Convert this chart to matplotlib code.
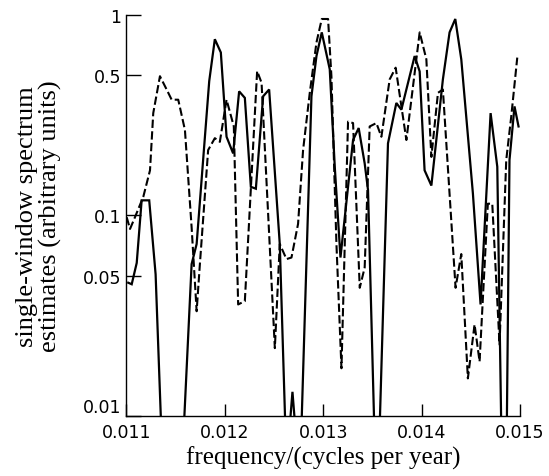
import matplotlib
matplotlib.use("Agg")
import matplotlib.pyplot as plt
from matplotlib.ticker import FixedLocator, FixedFormatter, NullLocator

# values; 0.009 marks dips that run below the axis
solid_freq = [0.011018, 0.011053, 0.011104, 0.011154, 0.011231, 0.011296,
              0.011352, 0.011584, 0.011662, 0.011713, 0.011841, 0.011898,
              0.011959, 0.012017, 0.012084, 0.012145, 0.012203, 0.012264,
              0.012315, 0.012389, 0.012450, 0.012558, 0.012614, 0.012660,
              0.012687, 0.012714, 0.012779, 0.012880, 0.012931, 0.012985,
              0.013066, 0.013117, 0.013175, 0.013303, 0.013360, 0.013421,
              0.013455, 0.013518, 0.013574, 0.013658, 0.013743, 0.013794,
              0.013929, 0.013980, 0.014030, 0.014099, 0.014216, 0.014284,
              0.014342, 0.014403, 0.014521, 0.014599, 0.014701, 0.014769,
              0.014809, 0.014866, 0.014893, 0.014944, 0.014985]
solid_power = [0.0462, 0.0454, 0.058, 0.119, 0.119, 0.0509,
               0.009, 0.009, 0.0572, 0.0721, 0.468, 0.757,
               0.650, 0.247, 0.204, 0.416, 0.386, 0.139,
               0.136, 0.393, 0.425, 0.0721, 0.009, 0.009,
               0.0132, 0.009, 0.009, 0.393, 0.624, 0.819,
               0.536, 0.175, 0.0617, 0.238, 0.273, 0.182,
               0.134, 0.009, 0.009, 0.229, 0.364, 0.337,
               0.624, 0.523, 0.168, 0.141, 0.477, 0.819,
               0.955, 0.601, 0.129, 0.036, 0.324, 0.175,
               0.009, 0.009, 0.189, 0.350, 0.278]

dashed_freq = [0.011002, 0.011036, 0.011086, 0.011171, 0.011239, 0.011272,
               0.011340, 0.011408, 0.011459, 0.011526, 0.011594, 0.011662,
               0.011713, 0.011746, 0.011830, 0.011898, 0.011949, 0.012017,
               0.012091, 0.012135, 0.012203, 0.012328, 0.012373, 0.012508,
               0.012558, 0.012626, 0.012677, 0.012744, 0.012795, 0.012863,
               0.012931, 0.012985, 0.013049, 0.013083, 0.013134, 0.013185,
               0.013252, 0.013303, 0.013371, 0.013421, 0.013472, 0.013540,
               0.013591, 0.013675, 0.013736, 0.013845, 0.013980, 0.014048,
               0.014099, 0.014166, 0.014216, 0.014345, 0.014403, 0.014470,
               0.014538, 0.014589, 0.014673, 0.014718, 0.014792, 0.014860,
               0.014911, 0.014972]
dashed_power = [0.098, 0.0857, 0.098, 0.124, 0.168, 0.324,
                0.495, 0.425, 0.378, 0.378, 0.267, 0.0873,
                0.0333, 0.0572, 0.212, 0.243, 0.233, 0.378,
                0.278, 0.036, 0.0374, 0.525, 0.459, 0.0218,
                0.0721, 0.0606, 0.0617, 0.0908, 0.212, 0.409,
                0.729, 0.955, 0.955, 0.495, 0.0721, 0.0173,
                0.294, 0.289, 0.0436, 0.055, 0.278, 0.289,
                0.247, 0.477, 0.546, 0.238, 0.819, 0.601,
                0.196, 0.409, 0.425, 0.0436, 0.0642, 0.0154,
                0.0286, 0.0187, 0.1145, 0.1145, 0.0227, 0.189,
                0.312, 0.613]

x_ticks = [0.011, 0.012, 0.013, 0.014, 0.015]
x_labels = ["0.011", "0.012", "0.013", "0.014", "0.015"]
y_ticks = [0.01, 0.05, 0.1, 0.5, 1]
y_labels = ["0.01", "0.05", "0.1", "0.5", "1"]

fig = plt.figure(figsize=(5.49, 4.77), dpi=100)
ax = fig.add_axes([0.2304, 0.1258, 0.7168, 0.8407])

ax.plot(solid_freq, solid_power, color="black", lw=1.6, solid_joinstyle="miter")
ax.plot(dashed_freq, dashed_power, color="black", lw=1.5, linestyle=(0, (4, 1.6)))

ax.set_yscale("log")
ax.set_xlim(0.011, 0.015)
ax.set_ylim(0.01, 1)

ax.xaxis.set_major_locator(FixedLocator(x_ticks))
ax.xaxis.set_major_formatter(FixedFormatter(x_labels))
ax.yaxis.set_major_locator(FixedLocator(y_ticks))
ax.yaxis.set_major_formatter(FixedFormatter(y_labels))
ax.yaxis.set_minor_locator(NullLocator())

for s in ["top", "right"]:
    ax.spines[s].set_visible(False)
for s in ["left", "bottom"]:
    ax.spines[s].set_linewidth(1.0)

ax.tick_params(axis="both", direction="in", width=1.0, labelsize=12.5)
ax.tick_params(axis="y", length=11, pad=4)
ax.tick_params(axis="x", length=9, pad=5)

# the lowest y label sits just above the corner, as in the original
fig.canvas.draw()
ax.get_yticklabels()[0].set_verticalalignment("bottom")

ax.set_xlabel("frequency/(cycles per year)", family="Liberation Serif",
              fontsize=18, labelpad=3)
ax.set_ylabel("single-window spectrum\nestimates (arbitrary units)",
              family="Liberation Serif", fontsize=19, labelpad=15,
              linespacing=1.05)

fig.savefig("out.png", dpi=100)
